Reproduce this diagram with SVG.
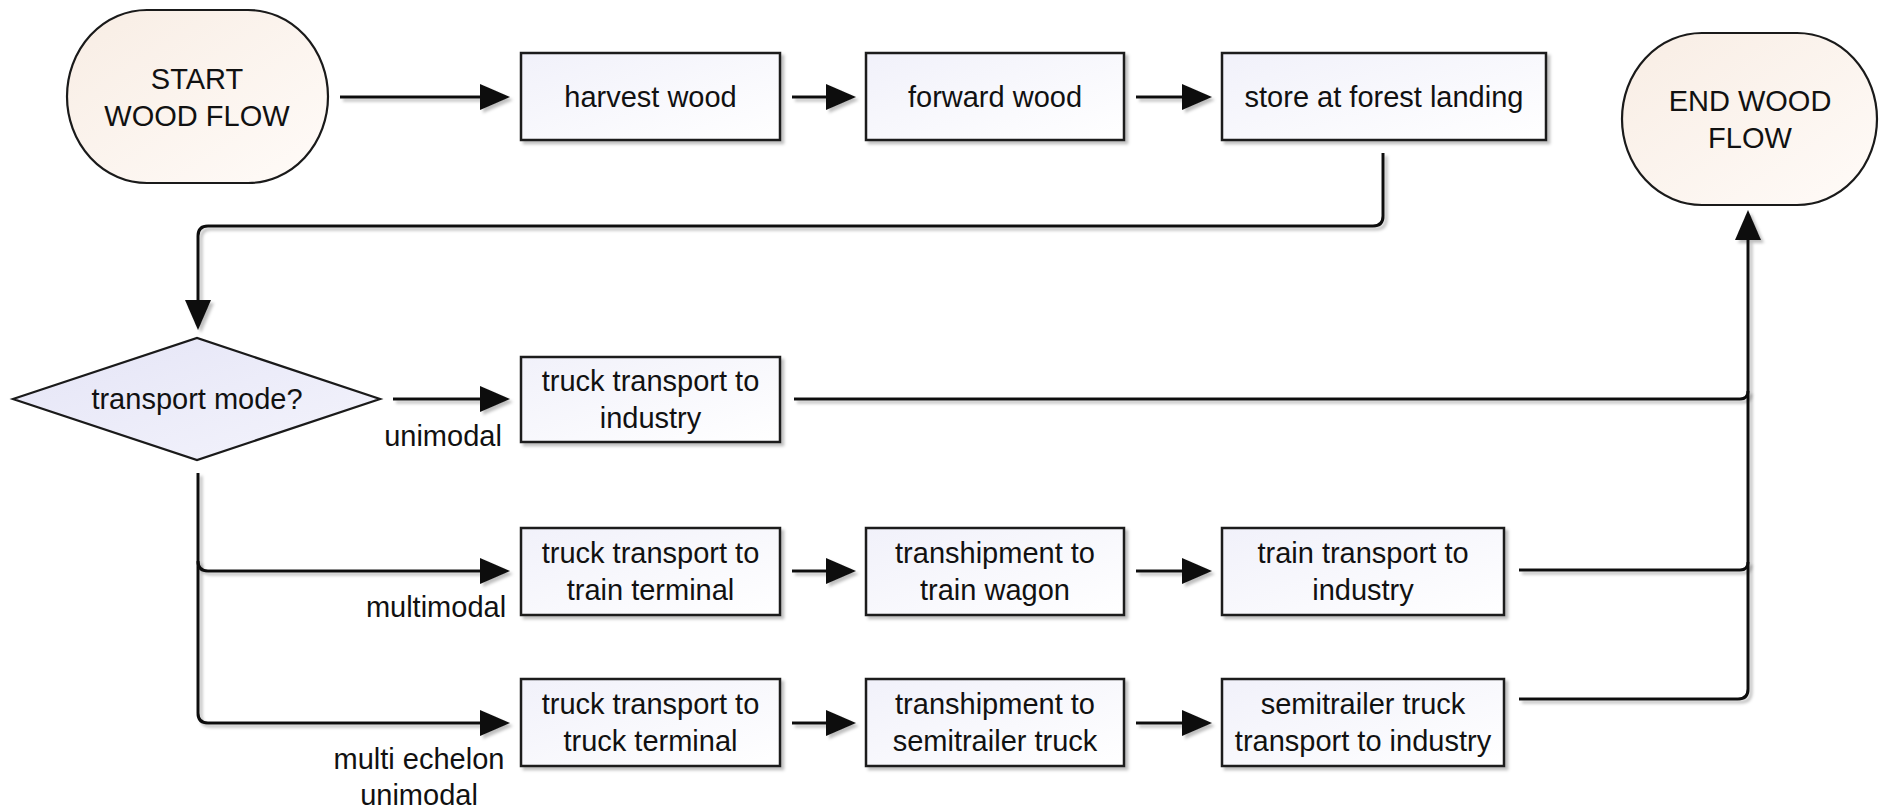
<svg xmlns="http://www.w3.org/2000/svg" width="1879" height="811" viewBox="0 0 1879 811">
  <style>
    .box { fill: url(#boxFill); stroke: #1a1a1a; stroke-width: 2.5; filter: url(#shadow); }
    .term { fill: url(#termFill); stroke: #1a1a1a; stroke-width: 2.2; }
    .dec { fill: url(#decFill); stroke: #1a1a1a; stroke-width: 2.2; }
    .lbl { font-family: "Liberation Sans", Arial, sans-serif; font-size: 29px; fill: #111; text-anchor: middle; }
    .edge { font-family: "Liberation Sans", Arial, sans-serif; font-size: 29px; fill: #111; text-anchor: middle; }
    .conn { fill: none; stroke: #111; stroke-width: 3; filter: url(#shadow); }
    .conn.arrow { marker-end: url(#arrow); }
  </style>
  <defs>
    <linearGradient id="boxFill" x1="0" y1="0" x2="1" y2="1">
      <stop offset="0" stop-color="#f1f1fa"/>
      <stop offset="1" stop-color="#ffffff"/>
    </linearGradient>
    <linearGradient id="termFill" x1="0" y1="0" x2="1" y2="1">
      <stop offset="0" stop-color="#f8ede4"/>
      <stop offset="1" stop-color="#fffbf8"/>
    </linearGradient>
    <linearGradient id="decFill" x1="0" y1="0" x2="1" y2="1">
      <stop offset="0" stop-color="#e4e4f6"/>
      <stop offset="1" stop-color="#f4f4fc"/>
    </linearGradient>
    <!-- soft drop shadow; user-space region so flat lines are not clipped -->
    <filter id="shadow" filterUnits="userSpaceOnUse" x="0" y="0" width="1879" height="811">
      <feDropShadow dx="3" dy="3" stdDeviation="1.5" flood-color="#000" flood-opacity="0.25"/>
    </filter>
    <marker id="arrow" markerUnits="userSpaceOnUse" markerWidth="31" markerHeight="26" refX="0" refY="13" orient="auto" viewBox="0 0 31 26">
      <path d="M0,0 L30,13 L0,26 z" fill="#111"/>
    </marker>
  </defs>

  <!-- connectors -->
  <g id="connectors">
    <path class="conn arrow" d="M340 97 H480"/>
    <path class="conn arrow" d="M792 97 H826"/>
    <path class="conn arrow" d="M1136 97 H1182"/>
    <path class="conn arrow" d="M1383 153 V216 Q1383 226 1373 226 H208 Q198 226 198 236 V300"/>
    <path class="conn arrow" d="M393 399 H480"/>
    <path class="conn arrow" d="M198 473 V713 Q198 723 208 723 H480"/>
    <path class="conn arrow" d="M198 561 Q198 571 208 571 H480"/>
    <path class="conn arrow" d="M792 571 H826"/>
    <path class="conn arrow" d="M1136 571 H1182"/>
    <path class="conn arrow" d="M792 723 H826"/>
    <path class="conn arrow" d="M1136 723 H1182"/>
    <path class="conn" d="M794 399 H1740 Q1748 399 1748 391"/>
    <path class="conn" d="M1519 570 H1740 Q1748 570 1748 562"/>
    <path class="conn arrow" d="M1519 699 H1738 Q1748 699 1748 689 V240"/>
    <text class="edge" x="443" y="446">unimodal</text>
    <text class="edge" x="436" y="617">multimodal</text>
    <text class="edge" x="419" y="769">multi echelon</text>
    <text class="edge" x="419" y="805">unimodal</text>
  </g>

  <g id="start">
    <rect class="term" x="67" y="10" width="261" height="173" rx="80" ry="86.5"/>
    <text class="lbl" x="197" y="89">START</text>
    <text class="lbl" x="197" y="126">WOOD FLOW</text>
  </g>

  <g id="end">
    <rect class="term" x="1622" y="33" width="255" height="172" rx="80" ry="86"/>
    <text class="lbl" x="1750" y="111">END WOOD</text>
    <text class="lbl" x="1750" y="148">FLOW</text>
  </g>

  <g id="harvest">
    <rect class="box" x="521" y="53" width="259" height="87"/>
    <text class="lbl" x="650.5" y="107">harvest wood</text>
  </g>
  <g id="forward">
    <rect class="box" x="866" y="53" width="258" height="87"/>
    <text class="lbl" x="995" y="107">forward wood</text>
  </g>
  <g id="store">
    <rect class="box" x="1222" y="53" width="324" height="87"/>
    <text class="lbl" x="1384" y="107">store at forest landing</text>
  </g>

  <g id="mode">
    <polygon class="dec" points="13,399 197,338 380,399 197,460"/>
    <text class="lbl" x="197" y="409">transport mode?</text>
  </g>

  <g id="truck-industry">
    <rect class="box" x="521" y="357" width="259" height="85"/>
    <text class="lbl" x="650.5" y="391">truck transport to</text>
    <text class="lbl" x="650.5" y="428">industry</text>
  </g>

  <g id="truck-train-terminal">
    <rect class="box" x="521" y="528" width="259" height="87"/>
    <text class="lbl" x="650.5" y="563">truck transport to</text>
    <text class="lbl" x="650.5" y="600">train terminal</text>
  </g>
  <g id="tranship-wagon">
    <rect class="box" x="866" y="528" width="258" height="87"/>
    <text class="lbl" x="995" y="563">transhipment to</text>
    <text class="lbl" x="995" y="600">train wagon</text>
  </g>
  <g id="train-industry">
    <rect class="box" x="1222" y="528" width="282" height="87"/>
    <text class="lbl" x="1363" y="563">train transport to</text>
    <text class="lbl" x="1363" y="600">industry</text>
  </g>

  <g id="truck-truck-terminal">
    <rect class="box" x="521" y="679" width="259" height="87"/>
    <text class="lbl" x="650.5" y="714">truck transport to</text>
    <text class="lbl" x="650.5" y="751">truck terminal</text>
  </g>
  <g id="tranship-semitrailer">
    <rect class="box" x="866" y="679" width="258" height="87"/>
    <text class="lbl" x="995" y="714">transhipment to</text>
    <text class="lbl" x="995" y="751">semitrailer truck</text>
  </g>
  <g id="semitrailer-industry">
    <rect class="box" x="1222" y="679" width="282" height="87"/>
    <text class="lbl" x="1363" y="714">semitrailer truck</text>
    <text class="lbl" x="1363" y="751">transport to industry</text>
  </g>
</svg>
